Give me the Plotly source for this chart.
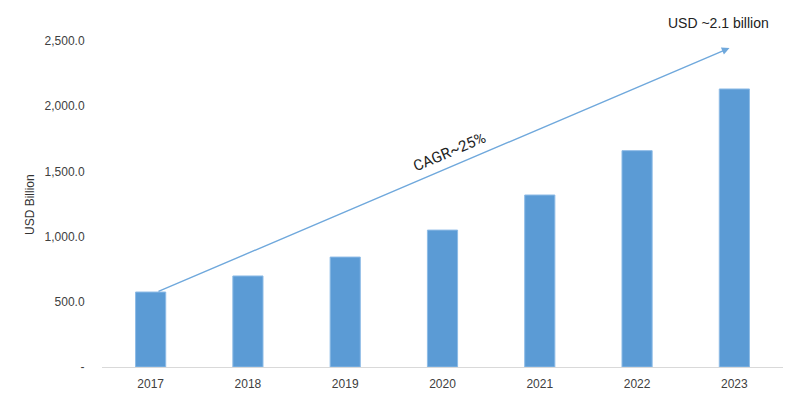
import plotly.graph_objects as go

years = ["2017", "2018", "2019", "2020", "2021", "2022", "2023"]
values = [575, 698, 843, 1050, 1319, 1659, 2132]
ytick_vals = [0, 500, 1000, 1500, 2000, 2500]
ytick_text = ["-", "500.0", "1,000.0", "1,500.0", "2,000.0", "2,500.0"]

# page body has an 8px margin; size figure to fill the rest of the window
OFF = 8
W, H = 800 - OFF, 419 - OFF
L, R, T, B = 102 - OFF, 17, 20 - OFF, 52
pw, ph = W - L - R, H - T - B

fig = go.Figure()
fig.add_trace(go.Bar(
    x=years, y=values,
    marker=dict(color="#5B9BD5", line=dict(color="#8DBBE6", width=1)),
    width=0.31,
))

# CAGR arrow
fig.add_annotation(
    x=5.95, y=2446, ax=0.065, ay=575,
    xref="x", yref="y", axref="x", ayref="y",
    showarrow=True, arrowhead=2, arrowsize=1.1, arrowwidth=1.4,
    arrowcolor="#6FA8DC", text="",
)
fig.add_annotation(
    x=3.07, y=1650, xref="x", yref="y",
    text="CAGR~25%", showarrow=False, textangle=-23,
    xanchor="center", yanchor="middle",
    font=dict(family="Roboto", size=15, color="#222222"),
)


def px2paper(px, py):
    return ((px - OFF) - L) / pw, (H - B - (py - OFF)) / ph


ux, uy = px2paper(718, 23)
fig.add_annotation(
    x=ux, y=uy, xref="paper", yref="paper",
    xanchor="center", yanchor="middle",
    text="USD ~2.1 billion", showarrow=False,
    font=dict(family="Liberation Sans", size=14, color="#222222"),
)
tx, ty = px2paper(30, 205)
fig.add_annotation(
    x=tx, y=ty, xref="paper", yref="paper",
    xanchor="center", yanchor="middle",
    text="USD Billion", showarrow=False, textangle=-90,
    font=dict(family="Liberation Sans", size=12, color="#333333"),
)

fig.update_layout(
    width=W, height=H,
    margin=dict(l=L, r=R, t=T, b=B),
    paper_bgcolor="white", plot_bgcolor="white",
    showlegend=False,
    font=dict(family="Liberation Sans", size=12, color="#404040"),
)
fig.update_xaxes(
    type="category", range=[-0.5, 6.5],
    showline=True, linecolor="#D9D9D9", linewidth=1,
    showgrid=False, ticks="outside", ticklen=6, tickcolor="rgba(0,0,0,0)",
    tickfont=dict(size=12, color="#404040"),
)
fig.update_yaxes(
    range=[0, 2661], tickvals=ytick_vals, ticktext=ytick_text,
    showgrid=False, zeroline=False, showline=False,
    ticks="outside", ticklen=14, tickcolor="rgba(0,0,0,0)",
    tickfont=dict(size=12, color="#404040"),
)

fig.write_html("out.html")
